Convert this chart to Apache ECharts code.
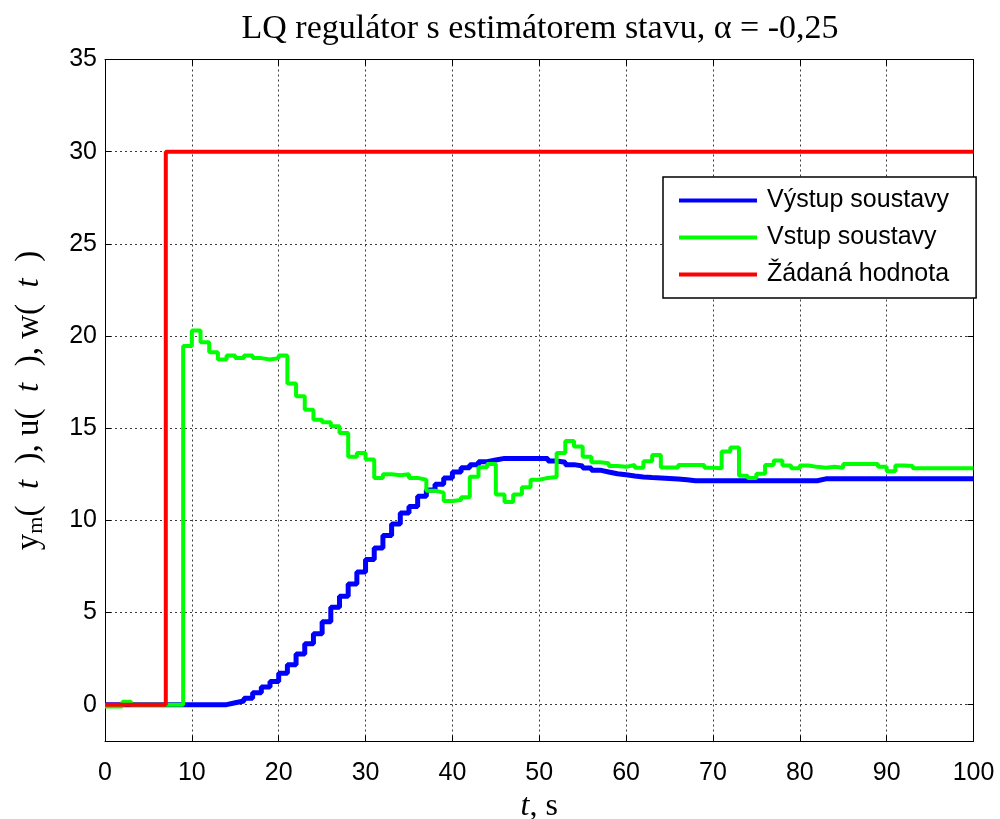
<!DOCTYPE html>
<html>
<head>
<meta charset="utf-8">
<script src="https://cdn.jsdelivr.net/npm/echarts@6/dist/echarts.min.js"></script>
<style>
  html, body { margin: 0; padding: 0; background: #fff; }
  #chart { width: 1000px; height: 819px; }
</style>
</head>
<body>
<div id="chart"></div>
<script>
// Sampling period of the discrete controller, seconds
const samplePeriod = 1;

// Plant output y_m(t), one value per sample (zero-order hold), t = 0 .. 100 s
const outputValues = [
  0, 0, 0, 0, 0, 0, 0, 0, 0, 0,
  0, 0, 0, 0, 0.1, 0.2, 0.35, 0.65, 0.95, 1.25,
  1.7, 2.17, 2.75, 3.3, 3.85, 4.5, 5.28, 5.88, 6.55, 7.2,
  7.87, 8.5, 9.17, 9.8, 10.4, 10.75, 11.3, 11.65, 11.95, 12.3,
  12.62, 12.85, 13.02, 13.18, 13.27, 13.36, 13.36, 13.36, 13.36, 13.36,
  13.36, 13.22, 13.15, 13.02, 12.95, 12.84, 12.72, 12.62, 12.53, 12.47,
  12.4, 12.35, 12.32, 12.3, 12.27, 12.24, 12.2, 12.15, 12.15, 12.15,
  12.15, 12.15, 12.15, 12.15, 12.15, 12.15, 12.15, 12.15, 12.15, 12.15,
  12.15, 12.15, 12.25, 12.25, 12.25, 12.25, 12.25, 12.25, 12.25, 12.25,
  12.25, 12.25, 12.25, 12.25, 12.25, 12.25, 12.25, 12.25, 12.25, 12.25,
  12.25
];

// Plant input u(t), one value per sample
const inputValues = [
  -0.1, -0.1, 0.15, 0, 0, 0, 0, 0, 0, 19.45,
  20.3, 19.66, 19.12, 18.72, 18.94, 18.8, 18.94, 18.8, 18.72, 18.8,
  18.94, 17.42, 16.73, 16.0, 15.46, 15.32, 15.1, 14.74, 13.45, 13.65,
  13.3, 12.3, 12.5, 12.45, 12.5, 12.3, 12.2, 11.6, 11.5, 11.05,
  11.1, 11.25, 12.37, 12.88, 13.06, 11.4, 11.0, 11.4, 11.8, 12.2,
  12.3, 12.35, 13.65, 14.3, 14.0, 13.45, 13.15, 13.1, 12.95, 12.9,
  13.0, 12.85, 13.2, 13.55, 12.87, 12.87, 13.0, 13.0, 13.0, 12.85,
  12.83, 13.73, 13.95, 12.42, 12.3, 12.53, 13.0, 13.25, 12.97, 12.83,
  12.97, 12.9, 12.85, 12.9, 12.85, 13.05, 13.05, 13.05, 13.05, 12.9,
  12.66, 12.97, 12.95, 12.83, 12.83, 12.83, 12.83, 12.83, 12.83, 12.83,
  12.83
];

// Reference signal w(t): step from 0 to 30 at t = 7 s
const setpointTimes = [0, 7, 100];
const setpointValues = [0, 30, 30];

// Axis ticks
const yTickValues = [0, 5, 10, 15, 20, 25, 30, 35];

const seriesNames = ['Výstup soustavy', 'Vstup soustavy', 'Žádaná hodnota'];
const seriesColors = ['#0000ff', '#00ff00', '#ff0000'];

const titleText = 'LQ regulátor s estimátorem stavu, α = -0,25';

function sampled(values) {
  return values.map((v, k) => [k * samplePeriod, v]);
}
function paired(times, values) {
  return times.map((t, i) => [t, values[i]]);
}

const sans = 'Liberation Sans, Arial, sans-serif';
const serif = 'Liberation Serif, Times New Roman, serif';

const boxLine = { show: true, onZero: false, lineStyle: { color: '#000', width: 1 } };
const innerTick = { show: true, inside: true, length: 6, lineStyle: { color: '#000', width: 1 } };
const gridDots = { show: true, lineStyle: { color: '#3a3a3a', width: 1, type: [2, 3] } };

const chart = echarts.init(document.getElementById('chart'), null, { renderer: 'canvas' });

chart.setOption({
  animation: false,
  backgroundColor: '#fff',
  title: {
    text: titleText,
    left: 535,
    textAlign: 'center',
    top: 7,
    textStyle: { fontFamily: serif, fontSize: 34, fontWeight: 'normal', color: '#000' }
  },
  grid: {
    left: 105, right: 26.5, top: 59.5, bottom: 77.5,
    containLabel: false, outerBoundsMode: 'none'
  },
  legend: {
    orient: 'vertical',
    left: 663,
    top: 177,
    data: seriesNames,
    icon: 'rect',
    itemWidth: 78,
    itemHeight: 4,
    itemGap: 12,
    padding: [11, 27, 11, 16],
    borderColor: '#000',
    borderWidth: 1.5,
    backgroundColor: '#fff',
    textStyle: { fontFamily: sans, fontSize: 25, color: '#000', padding: [0, 0, 0, 5] }
  },
  xAxis: [
    {
      type: 'value', position: 'bottom', min: 0, max: 100, interval: 10,
      axisLine: boxLine, axisTick: innerTick, splitLine: gridDots,
      axisLabel: { color: '#000', fontFamily: sans, fontSize: 25, margin: 19 },
      name: '{i|t}{n|, s}',
      nameLocation: 'middle',
      nameGap: 43,
      nameTextStyle: {
        rich: {
          i: { fontFamily: serif, fontSize: 32, fontStyle: 'italic', color: '#000' },
          n: { fontFamily: serif, fontSize: 32, color: '#000' }
        }
      }
    },
    {
      type: 'value', position: 'top', min: 0, max: 100, interval: 10,
      axisLine: boxLine, axisTick: innerTick,
      axisLabel: { show: false }, splitLine: { show: false }
    }
  ],
  yAxis: [
    {
      type: 'value', position: 'left', min: -2, max: 35,
      axisLine: boxLine,
      axisTick: Object.assign({}, innerTick, { customValues: yTickValues }),
      splitLine: gridDots,
      axisLabel: { color: '#000', fontFamily: sans, fontSize: 25, margin: 8, customValues: yTickValues },
      name: '{a|y}{s|m}{a|(  }{i|t}{a|  ), u(  }{i|t}{a|  ), w(  }{i|t}{a|  )}',
      nameLocation: 'middle',
      nameGap: 58,
      nameRotate: 90,
      nameTextStyle: {
        rich: {
          a: { fontFamily: serif, fontSize: 33, color: '#000', lineHeight: 36 },
          i: { fontFamily: serif, fontSize: 33, fontStyle: 'italic', color: '#000', lineHeight: 36 },
          s: { fontFamily: serif, fontSize: 22, color: '#000', verticalAlign: 'bottom', lineHeight: 14 }
        }
      }
    },
    {
      type: 'value', position: 'right', min: -2, max: 35,
      axisLine: boxLine,
      axisTick: Object.assign({}, innerTick, { customValues: yTickValues }),
      axisLabel: { show: false, customValues: yTickValues }, splitLine: { show: false }
    }
  ],
  series: [
    {
      name: seriesNames[0], type: 'line', step: 'end', data: sampled(outputValues),
      showSymbol: false, symbol: 'none', color: seriesColors[0],
      lineStyle: { width: 5, color: seriesColors[0] }, z: 2
    },
    {
      name: seriesNames[1], type: 'line', step: 'end', data: sampled(inputValues),
      showSymbol: false, symbol: 'none', color: seriesColors[1],
      lineStyle: { width: 4, color: seriesColors[1] }, z: 3
    },
    {
      name: seriesNames[2], type: 'line', step: 'end', data: paired(setpointTimes, setpointValues),
      showSymbol: false, symbol: 'none', color: seriesColors[2],
      lineStyle: { width: 4, color: seriesColors[2] }, z: 4
    }
  ]
});
</script>
</body>
</html>
